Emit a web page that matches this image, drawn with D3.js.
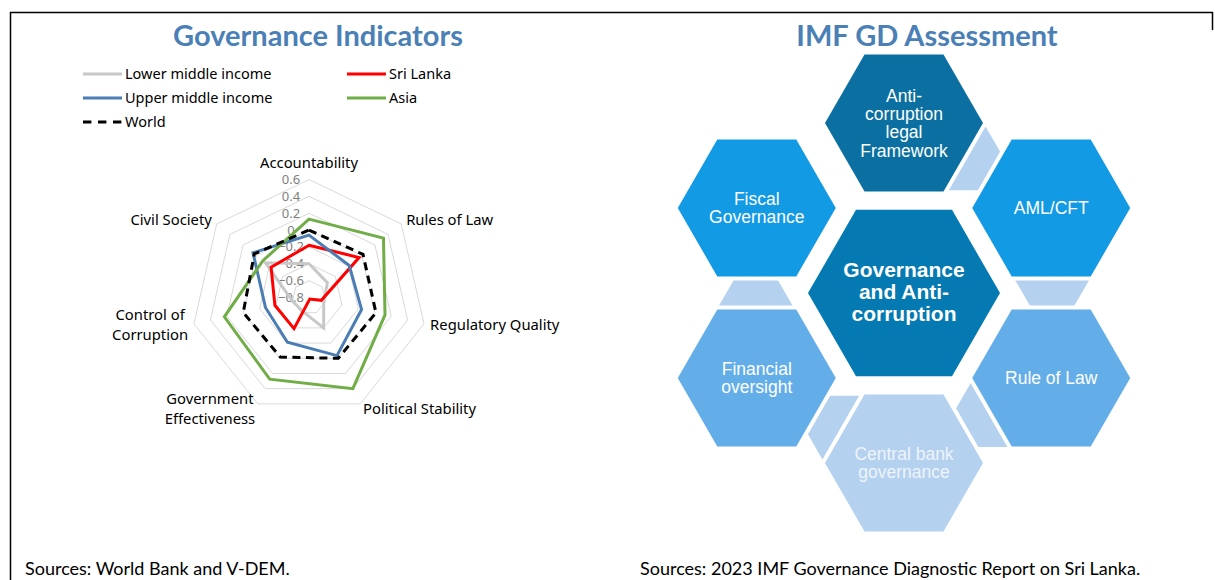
<!DOCTYPE html>
<html>
<head>
<meta charset="utf-8">
<script src="https://cdn.jsdelivr.net/npm/d3@7"></script>
<style>
  body { margin: 0; background: #fff; }
  svg { display: block; }
</style>
</head>
<body>
<svg id="mainFrame"></svg>
<script>
// ---- data ----
const axes = ['Accountability', 'Rules of Law', 'Regulatory Quality', 'Political Stability',
    'Government Effectiveness', 'Control of Corruption', 'Civil Society'];
const axisLabelLines = [['Accountability'], ['Rules of Law'], ['Regulatory Quality'], ['Political Stability'],
    ['Government', 'Effectiveness'], ['Control of', 'Corruption'], ['Civil Society']];

const lowerMiddleIncome = [-0.40, -0.52, -0.62, -0.40, -0.62, -0.60, -0.14];
const sriLanka          = [-0.18, -0.04, -0.65, -0.78, -0.39, -0.385, -0.225];
const upperMiddleIncome = [-0.06, -0.19, -0.16, -0.035, -0.21, -0.27, 0.05];
const asia              = [0.13, 0.33, 0.125, 0.40, 0.275, 0.23, -0.10];
const world             = [0.00, 0.02, 0.015, 0.00, -0.015, 0.00, 0.03];

const radialTicks = [-0.8, -0.6, -0.4, -0.2, 0, 0.2, 0.4, 0.6];

const seriesNames = ['Lower middle income', 'Sri Lanka', 'Upper middle income', 'Asia', 'World'];
const seriesValues = [lowerMiddleIncome, sriLanka, upperMiddleIncome, asia, world];

// hexagon diagram
const hexLabels = [['Anti-', 'corruption', 'legal', 'Framework'], ['AML/CFT'], ['Rule of Law'],
    ['Central bank', 'governance'], ['Financial', 'oversight'], ['Fiscal', 'Governance']];
const centreLabel = ['Governance', 'and Anti-', 'corruption'];

// ---- styles ----
const seriesColors = ['#c8c8c8', '#ff0000', '#4a7db3', '#70ad47', '#000000'];
const hexColors = ['#0b70a1', '#139ae5', '#63aee8', '#b4d1ef', '#63aee8', '#139ae5'];
const hexTextColors = ['#fff', '#fff', '#fff', '#eef4fb', '#fff', '#fff'];
const connectorColor = '#b4d1ef';
const titleColor = '#4a80b6';

const width = 1215, height = 580;
const svg = d3.select('#mainFrame')
    .attr('width', width)
    .attr('height', height);

// frame lines
const frame = svg.append('g').attr('stroke', '#000').attr('stroke-width', 1.5);
frame.append('line').attr('x1', 10).attr('x2', 1213).attr('y1', 12.5).attr('y2', 12.5);
frame.append('line').attr('x1', 10.5).attr('x2', 10.5).attr('y1', 12).attr('y2', height);
frame.append('line').attr('x1', 1212.5).attr('x2', 1212.5).attr('y1', 12).attr('y2', 30);

// titles
const titleFont = 'Lato, "Open Sans", sans-serif';
svg.append('text').attr('x', 318).attr('y', 46)
    .attr('text-anchor', 'middle').attr('font-family', titleFont).attr('font-weight', 700)
    .attr('font-size', 29).attr('fill', titleColor).text('Governance Indicators');
svg.append('text').attr('x', 927).attr('y', 46)
    .attr('text-anchor', 'middle').attr('font-family', titleFont).attr('font-weight', 700)
    .attr('font-size', 29).attr('fill', titleColor).text('IMF GD Assessment');

// sources
const srcFont = 'Lato, "Noto Sans", sans-serif';
svg.append('text').attr('x', 25).attr('y', 575).attr('font-family', srcFont)
    .attr('font-size', 18).attr('fill', '#000').text('Sources: World Bank and V-DEM.');
svg.append('text').attr('x', 640).attr('y', 575).attr('font-family', srcFont)
    .attr('font-size', 18).attr('fill', '#000').text('Sources: 2023 IMF Governance Diagnostic Report on Sri Lanka.');

// ---- legend ----
const labelFont = '"Noto Sans", "Open Sans", sans-serif';
const legendPos = [[83, 74], [347, 74], [83, 98], [347, 98], [83, 122]];
const legend = svg.append('g').attr('font-family', labelFont).attr('font-size', 14.5);
seriesNames.forEach((name, i) => {
    const [x, y] = legendPos[i];
    const g = legend.append('g').attr('transform', `translate(${x},${y})`);
    g.append('line').attr('x1', 0).attr('x2', 39).attr('y1', 0).attr('y2', 0)
        .attr('stroke', seriesColors[i]).attr('stroke-width', 3)
        .attr('stroke-dasharray', name === 'World' ? '8.4,6.6' : null);
    g.append('text').attr('x', 42).attr('dy', '0.35em').text(name);
});

// ---- radar ----
const cx = 309, cy = 297.5, R = 118;
const rScale = d3.scaleLinear().domain([radialTicks[0], radialTicks[radialTicks.length - 1]]).range([0, R]);
const angle = i => i * 2 * Math.PI / axes.length;
const point = (v, i) => [cx + rScale(v) * Math.sin(angle(i)), cy - rScale(v) * Math.cos(angle(i))];

const radar = svg.append('g').attr('id', 'radar');

// grid rings
radar.append('g').selectAll('path').data(radialTicks.slice(1)).join('path')
    .attr('d', t => d3.line()(axes.map((a, i) => point(t, i))) + 'Z')
    .attr('fill', 'none').attr('stroke', '#d9d9d9').attr('stroke-width', 1);

// tick labels
radar.append('g').selectAll('text').data(radialTicks).join('text')
    .attr('x', cx - 18).attr('y', t => cy - rScale(t))
    .attr('dy', '0.35em').attr('text-anchor', 'middle')
    .attr('font-family', labelFont).attr('font-size', 13).attr('fill', '#7f7f7f')
    .text(t => d3.format('')(+t.toFixed(1)));

// series
radar.append('g').selectAll('path').data(seriesValues).join('path')
    .attr('d', vals => d3.line()(vals.map((v, i) => point(v, i))) + 'Z')
    .attr('fill', 'none')
    .attr('stroke', (d, i) => seriesColors[i])
    .attr('stroke-width', 3)
    .attr('stroke-linejoin', 'miter')
    .attr('stroke-dasharray', (d, i) => seriesNames[i] === 'World' ? '8,5.5' : null);

// axis labels
const axisLabels = radar.append('g').attr('font-family', labelFont).attr('font-size', 14.8).attr('fill', '#000');
axisLabelLines.forEach((lines, i) => {
    const s = Math.sin(angle(i)), c = Math.cos(angle(i));
    let x = cx + (R + 6) * s, y = cy - (R + 6) * c;
    if (c > 0.9) y -= 11;
    const anchor = Math.abs(s) < 0.1 ? 'middle' : (s > 0 ? 'start' : 'end');
    const t = axisLabels.append('text').attr('text-anchor', 'middle');
    lines.forEach((l, k) => {
        t.append('tspan').attr('x', 0).attr('y', (k - (lines.length - 1) / 2) * 20).attr('dy', '0.35em').text(l);
    });
    const w = t.node().getBBox().width;
    const dx = anchor === 'start' ? w / 2 : (anchor === 'end' ? -w / 2 : 0);
    t.attr('transform', `translate(${x + dx},${y})`);
});

// ---- hexagon diagram ----
const hexCx = 904, hexCy = 293;
const outerDist = 170, outerR = 79, innerR = 96;
const connectorDist = 149, connectorR = 38.5;
const hexPath = (x, y, r) => d3.line()(d3.range(6).map(k => [x + r * Math.cos(k * Math.PI / 3), y + r * Math.sin(k * Math.PI / 3)])) + 'Z';
const polar = (deg, d) => [hexCx + d * Math.cos(deg * Math.PI / 180), hexCy + d * Math.sin(deg * Math.PI / 180)];

const hexGroup = svg.append('g').attr('id', 'hexagons');

// connectors between neighbouring outer hexagons (the one between Fiscal and Anti-corruption is absent)
hexGroup.append('g').selectAll('path').data(d3.range(5)).join('path')
    .attr('d', k => { const [x, y] = polar(-66 + 60 * k, connectorDist); return hexPath(x, y, connectorR); })
    .attr('fill', connectorColor);

const hexFont = '"Liberation Sans", Arial, sans-serif';
const outer = hexGroup.append('g').selectAll('g').data(hexLabels).join('g')
    .attr('transform', (d, i) => { const [x, y] = polar(-90 + 60 * i, outerDist); return `translate(${x},${y})`; });
outer.append('path')
    .attr('d', hexPath(0, 0, outerR))
    .attr('fill', (d, i) => hexColors[i])
    .attr('stroke', '#fff').attr('stroke-width', 8).attr('stroke-linejoin', 'miter')
    .style('paint-order', 'stroke');
outer.append('text')
    .attr('text-anchor', 'middle').attr('font-family', hexFont).attr('font-size', 17.5)
    .attr('fill', (d, i) => hexTextColors[i])
    .selectAll('tspan').data(d => d.map((l, k) => ({ l, k, n: d.length }))).join('tspan')
    .attr('x', 0).attr('y', d => (d.k - (d.n - 1) / 2) * 18.3).attr('dy', '0.35em')
    .text(d => d.l);

const centre = hexGroup.append('g').attr('transform', `translate(${hexCx},${hexCy})`);
centre.append('path').attr('d', hexPath(0, 0, innerR)).attr('fill', '#0479b2')
    .attr('stroke', '#fff').attr('stroke-width', 8).style('paint-order', 'stroke');
centre.append('text')
    .attr('text-anchor', 'middle').attr('font-family', hexFont).attr('font-size', 21)
    .attr('font-weight', 700).attr('fill', '#fff')
    .selectAll('tspan').data(centreLabel).join('tspan')
    .attr('x', 0).attr('y', (d, k) => (k - 1) * 22 - 1.5).attr('dy', '0.35em')
    .text(d => d);
</script>
</body>
</html>
